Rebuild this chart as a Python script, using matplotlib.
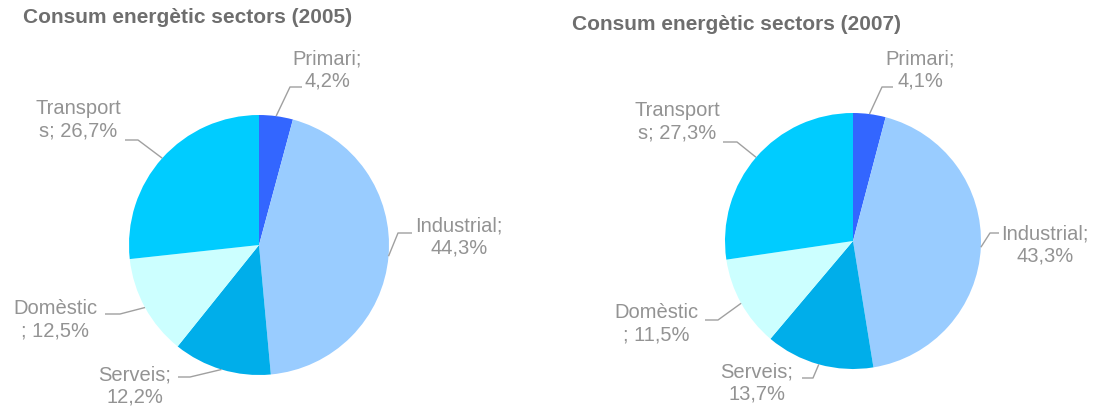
import numpy as np
import matplotlib
matplotlib.use("Agg")
import matplotlib.pyplot as plt

plt.rcParams['font.family'] = ['Liberation Sans', 'DejaVu Sans']

categories = ["Primari", "Industrial", "Serveis", "Domèstic", "Transports"]
values_2005 = [4.2, 44.3, 12.2, 12.5, 26.7]
values_2007 = [4.1, 43.3, 13.7, 11.5, 27.3]
years = ["2005", "2007"]
# where each label wraps in the original chart
wrap_at = [8, 11, 8, 8, 9]

colors = ["#3366FF", "#99CCFF", "#00AEEA", "#CCFFFF", "#00CCFF"]
text_grey = "#939393"
title_grey = "#6E6E6E"
line_grey = "#A0A0A0"

W, H = 1098, 412

# layout in pixels (y measured from top)
pies = [
    dict(center=(259, 245), radius=130, title=(23, 17),
         text=[(327, 70), (459, 237), (135, 386), (55, 320), (78, 120)],
         knee=[[(290, 87), (302, 87)], [(398, 233), (412, 233)],
               [(190, 377), (178, 377)], [(120, 314), (105, 314)],
               [(138, 140), (125, 140)]]),
    dict(center=(853, 241), radius=128, title=(572, 24),
         text=[(920, 70), (1045, 245), (757, 383), (656, 324), (677, 122)],
         knee=[[(882, 87), (893, 87)], [(990, 233), (999, 233)],
               [(813, 378), (802, 378)], [(718, 320), (705, 320)],
               [(737, 142), (723, 142)]]),
]


def fmt_label(cat, v, k):
    s = f"{cat}; {v:.1f}%".replace(".", ",")
    return s[:k] + "\n" + s[k:].lstrip() if s[k] == " " and s[k + 1] != ";" else s[:k] + "\n" + s[k:]


def Y(y):
    return H - y


fig = plt.figure(figsize=(W / 100, H / 100), dpi=100)
ax = fig.add_axes([0, 0, 1, 1])

for vals, year, p in zip([values_2005, values_2007], years, pies):
    cx, cy = p["center"]
    r = p["radius"]
    wedges, _ = ax.pie(vals, colors=colors, startangle=90, counterclock=False,
                       center=(cx, Y(cy)), radius=r,
                       wedgeprops=dict(linewidth=0))
    ax.text(p["title"][0], Y(p["title"][1]), f"Consum energètic sectors ({year})",
            fontsize=15, fontweight="bold", color=title_grey, ha="left", va="center")
    for w, cat, v, k, (tx, ty), knee in zip(wedges, categories, vals, wrap_at,
                                            p["text"], p["knee"]):
        ang = np.deg2rad((w.theta1 + w.theta2) / 2)
        ex, ey = cx + r * np.cos(ang), Y(cy) + r * np.sin(ang)
        xs = [ex] + [q[0] for q in knee]
        ys = [ey] + [Y(q[1]) for q in knee]
        ax.plot(xs, ys, color=line_grey, lw=1, solid_capstyle="butt")
        lab = fmt_label(cat, v, k)
        ax.text(tx, Y(ty), lab, fontsize=14.5, color=text_grey, ha="center",
                va="center", linespacing=1.25)

ax.set_xlim(0, W)
ax.set_ylim(0, H)
ax.set_aspect("auto")
ax.axis("off")

fig.savefig("out.png", dpi=100, facecolor="white")
